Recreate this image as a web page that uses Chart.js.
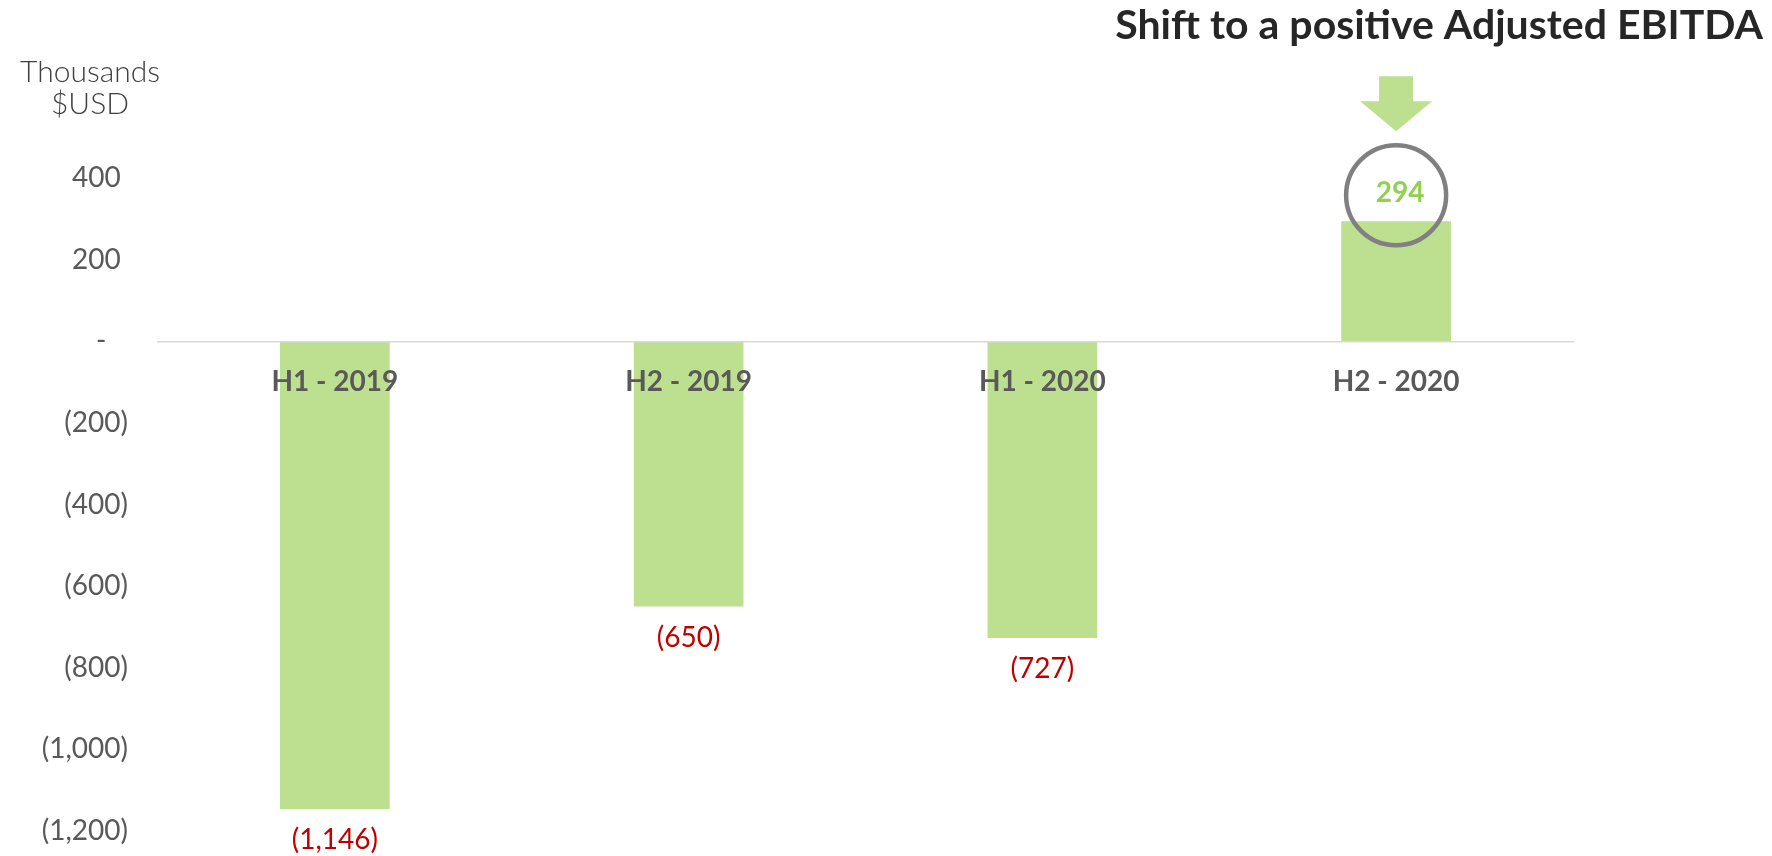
<!DOCTYPE html>
<html>
<head>
<meta charset="utf-8">
<script src="https://cdn.jsdelivr.net/npm/chart.js@4.4.1/dist/chart.umd.min.js"></script>
<style>
html, body { margin:0; padding:0; background:#fff; }
</style>
</head>
<body>
<canvas id="ebitdaChart" width="1772" height="856"></canvas>
<script>
const categories = ["H1 - 2019", "H2 - 2019", "H1 - 2020", "H2 - 2020"];
const ebitda = [-1146, -650, -727, 294];
const yTickValues = [400, 200, 0, -200, -400, -600, -800, -1000, -1200];
const titleText = "Shift to a positive Adjusted EBITDA";
const unitLines = ["Thousands", "$USD"];
const highlightIndex = 3;

const barGreen = "#BDDF90";

/* accounting style: (1,200) for negatives, "-" for zero */
function valueLabel(v) {
    const s = Math.abs(v).toLocaleString("en-US");
    return v < 0 ? "(" + s + ")" : s;
}
function tickLabel(v) {
    if (v === 0) return "-   ";
    return v < 0 ? valueLabel(v) : valueLabel(v) + " ";
}

const extras = {
    id: "extras",
    afterDatasetsDraw(chart) {
        const ctx = chart.ctx;
        const bars = chart.getDatasetMeta(0).data;
        ctx.save();
        ctx.textAlign = "center";
        ctx.textBaseline = "middle";

        // red labels under negative bars
        bars.forEach((bar, i) => {
            if (ebitda[i] < 0) {
                ctx.font = "28px Lato";
                ctx.fillStyle = "#C00000";
                ctx.fillText(valueLabel(ebitda[i]), bar.x, bar.y + 31);
            }
        });

        // highlighted positive bar: label, circle, arrow
        const hb = bars[highlightIndex];
        const cx = hb.x, cy = hb.y - 26;
        ctx.font = "bold 28px Lato";
        ctx.fillStyle = "#92D050";
        ctx.fillText(valueLabel(ebitda[highlightIndex]), cx + 4, cy - 2);

        ctx.beginPath();
        ctx.arc(cx, cy, 50, 0, Math.PI * 2);
        ctx.lineWidth = 4.5;
        ctx.strokeStyle = "#808080";
        ctx.stroke();

        ctx.beginPath();
        ctx.moveTo(cx - 17, cy - 119);
        ctx.lineTo(cx + 17, cy - 119);
        ctx.lineTo(cx + 17, cy - 94);
        ctx.lineTo(cx + 36, cy - 94);
        ctx.lineTo(cx, cy - 64);
        ctx.lineTo(cx - 36, cy - 94);
        ctx.lineTo(cx - 17, cy - 94);
        ctx.closePath();
        ctx.fillStyle = barGreen;
        ctx.fill();
        ctx.restore();
    },
    afterDraw(chart) {
        const ctx = chart.ctx;
        ctx.save();
        ctx.textBaseline = "alphabetic";

        ctx.font = "bold 41px Lato";
        ctx.fillStyle = "#262626";
        ctx.textAlign = "right";
        ctx.fillText(titleText, 1763, 39);

        ctx.font = "300 30px Lato";
        ctx.fillStyle = "#404040";
        ctx.textAlign = "center";
        ctx.fillText(unitLines[0], 90, 82);
        ctx.fillText(unitLines[1], 90, 114);
        ctx.restore();
    }
};

new Chart(document.getElementById("ebitdaChart"), {
    type: "bar",
    data: {
        labels: categories,
        datasets: [{
            label: "Adjusted EBITDA",
            data: ebitda,
            backgroundColor: barGreen,
            categoryPercentage: 0.31,
            barPercentage: 1
        }]
    },
    options: {
        responsive: false,
        animation: false,
        layout: { padding: { left: 38, right: 199, top: 178, bottom: 25 } },
        plugins: { legend: { display: false }, tooltip: { enabled: false } },
        scales: {
            x: {
                position: { y: 0 },
                grid: { display: false, drawTicks: false },
                border: { color: "#D9D9D9", width: 1.5, z: 1 },
                ticks: {
                    z: 1,
                    color: "#595959",
                    font: { family: "Lato", size: 28, weight: "bold" },
                    padding: 24
                }
            },
            y: {
                min: -1200,
                max: 400,
                afterBuildTicks: s => { s.ticks = yTickValues.map(v => ({ value: v })); },
                afterFit: s => { s.width = 120; s.paddingTop = 0; s.paddingBottom = 0; },
                grid: { display: false, drawTicks: false },
                border: { display: false },
                ticks: {
                    color: "#595959",
                    font: { family: "Lato", size: 28 },
                    padding: 30,
                    callback: v => tickLabel(v)
                }
            }
        }
    },
    plugins: [extras]
});
</script>
</body>
</html>
